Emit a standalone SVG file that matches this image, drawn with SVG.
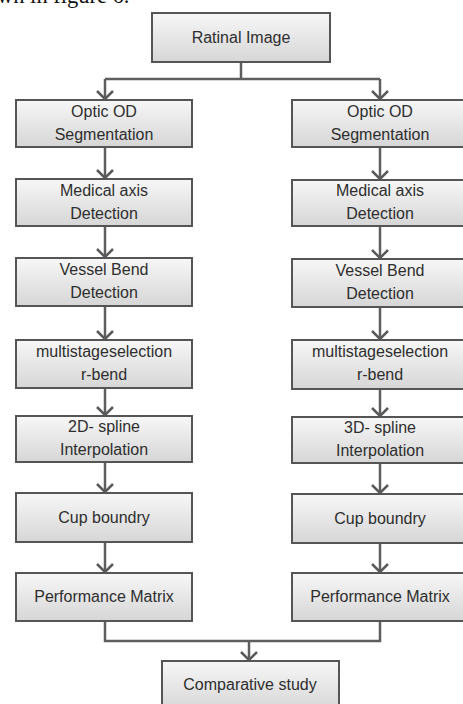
<svg xmlns="http://www.w3.org/2000/svg" width="463" height="704" viewBox="0 0 463 704">
<defs>
<linearGradient id="g" x1="0" y1="0" x2="0" y2="1">
<stop offset="0" stop-color="#f7f7f7"/>
<stop offset="1" stop-color="#d6d6d6"/>
</linearGradient>
<marker id="a" markerUnits="userSpaceOnUse" markerWidth="20" markerHeight="20" viewBox="-10 -10 20 20" refX="0" refY="0" orient="auto" overflow="visible">
<path d="M-8,-8 L0,0 L-8,8" fill="none" stroke="#5a5a5a" stroke-width="2.5"/>
</marker>
<style>
.b{fill:url(#g);stroke:#555;stroke-width:2}
.t{font-family:"Liberation Sans",Arial,sans-serif;font-size:16px;fill:#2e2e2e;text-anchor:middle}
.c{fill:none;stroke:#5e5e5e;stroke-width:2.5}
</style>
</defs>
<rect width="463" height="704" fill="#fff"/>
<text x="-3" y="3" font-family="Liberation Serif,serif" font-size="22.5" fill="#111">wn in figure 6.</text>
<g id="connectors">
<path class="c" d="M241 62V79M105 79H380"/>
<path class="c" marker-end="url(#a)" d="M105 79V99"/>
<path class="c" marker-end="url(#a)" d="M380 79V99"/>
<path class="c" marker-end="url(#a)" d="M105 147V178"/>
<path class="c" marker-end="url(#a)" d="M105 226V257"/>
<path class="c" marker-end="url(#a)" d="M105 306V339"/>
<path class="c" marker-end="url(#a)" d="M105 388V415"/>
<path class="c" marker-end="url(#a)" d="M105 462V492"/>
<path class="c" marker-end="url(#a)" d="M105 542V572"/>
<path class="c" marker-end="url(#a)" d="M380 147V179"/>
<path class="c" marker-end="url(#a)" d="M380 226V258"/>
<path class="c" marker-end="url(#a)" d="M380 307V339"/>
<path class="c" marker-end="url(#a)" d="M380 389V416"/>
<path class="c" marker-end="url(#a)" d="M380 463V493"/>
<path class="c" marker-end="url(#a)" d="M380 543V572"/>
<path class="c" d="M105 621V641H380V621"/>
<path class="c" marker-end="url(#a)" d="M249 641V660"/>
</g>
<g id="n0"><rect class="b" x="152" y="13" width="178" height="49"/><text class="t" x="241" y="43">Ratinal Image</text></g>
<g id="l1"><rect class="b" x="16" y="100" width="176" height="47"/><text class="t" x="104" y="117">Optic OD</text><text class="t" x="104" y="140">Segmentation</text></g>
<g id="l2"><rect class="b" x="16" y="179" width="176" height="47"/><text class="t" x="104" y="196">Medical axis</text><text class="t" x="104" y="219">Detection</text></g>
<g id="l3"><rect class="b" x="16" y="258" width="176" height="48"/><text class="t" x="104" y="275">Vessel Bend</text><text class="t" x="104" y="298">Detection</text></g>
<g id="l4"><rect class="b" x="16" y="340" width="176" height="48"/><text class="t" x="104" y="357">multistageselection</text><text class="t" x="104" y="380">r-bend</text></g>
<g id="l5"><rect class="b" x="16" y="416" width="176" height="46"/><text class="t" x="104" y="432">2D- spline</text><text class="t" x="104" y="455">Interpolation</text></g>
<g id="l6"><rect class="b" x="16" y="493" width="176" height="49"/><text class="t" x="104" y="523">Cup boundry</text></g>
<g id="l7"><rect class="b" x="16" y="573" width="176" height="48"/><text class="t" x="104" y="602">Performance Matrix</text></g>
<g id="r1"><rect class="b" x="292" y="100" width="176" height="47"/><text class="t" x="380" y="117">Optic OD</text><text class="t" x="380" y="140">Segmentation</text></g>
<g id="r2"><rect class="b" x="292" y="180" width="176" height="46"/><text class="t" x="380" y="196">Medical axis</text><text class="t" x="380" y="219">Detection</text></g>
<g id="r3"><rect class="b" x="292" y="259" width="176" height="48"/><text class="t" x="380" y="276">Vessel Bend</text><text class="t" x="380" y="299">Detection</text></g>
<g id="r4"><rect class="b" x="292" y="340" width="176" height="49"/><text class="t" x="380" y="357">multistageselection</text><text class="t" x="380" y="380">r-bend</text></g>
<g id="r5"><rect class="b" x="292" y="417" width="176" height="46"/><text class="t" x="380" y="433">3D- spline</text><text class="t" x="380" y="456">Interpolation</text></g>
<g id="r6"><rect class="b" x="292" y="494" width="176" height="49"/><text class="t" x="380" y="524">Cup boundry</text></g>
<g id="r7"><rect class="b" x="292" y="573" width="176" height="48"/><text class="t" x="380" y="602">Performance Matrix</text></g>
<g id="n8"><rect class="b" x="162" y="661" width="177" height="50"/><text class="t" x="250" y="690">Comparative study</text></g>
</svg>
